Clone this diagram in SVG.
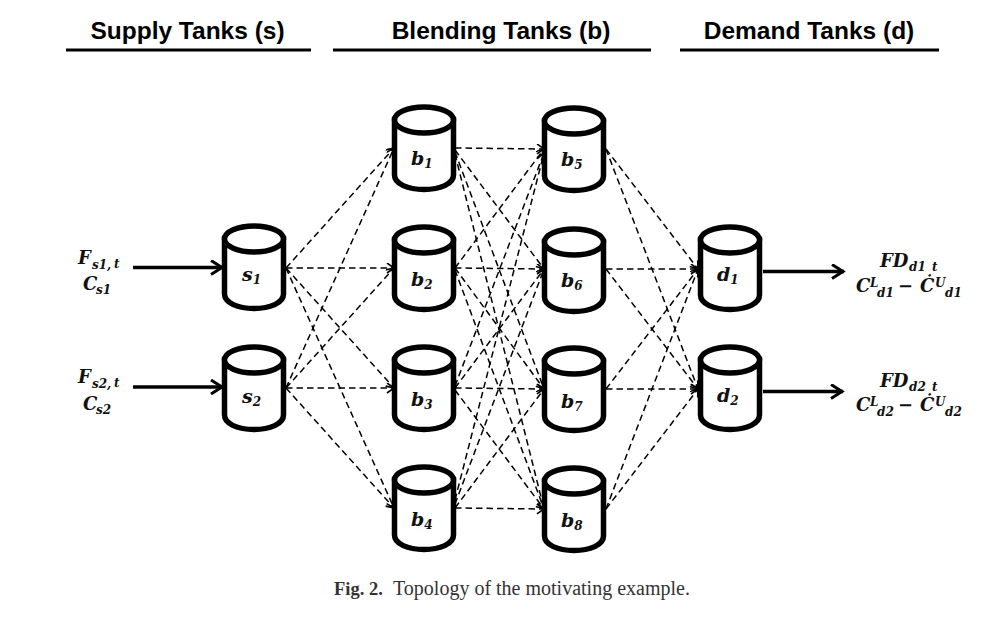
<svg xmlns="http://www.w3.org/2000/svg" width="1006" height="623" viewBox="0 0 1006 623">
<style>
.t{font:bold 24.5px "Liberation Sans",Arial,sans-serif;text-anchor:middle;fill:#000}
.h{stroke:#000;stroke-width:3;fill:none}
.c{fill:#fff;stroke:#000;stroke-width:5.500}
.m{font-family:"DejaVu Serif",serif;font-weight:bold;font-style:italic;fill:#111}
.l{font-size:18px}
.n{font-size:19px}
.s{font-size:12px}
.d{stroke:#000;stroke-width:1.500;stroke-dasharray:6.500 4;fill:none;marker-end:url(#a)}
.f{stroke:#000;stroke-width:3.300;fill:none;marker-end:url(#b)}
.cap{font-family:"Liberation Serif",serif;font-size:18.500px;fill:#333}
</style>
<defs>
<marker id="a" markerUnits="userSpaceOnUse" markerWidth="10" markerHeight="12" refX="8" refY="5" orient="auto"><path d="M1 0L8 5L1 10" fill="none" stroke="#000" stroke-width="1.600"/></marker>
<marker id="b" markerUnits="userSpaceOnUse" markerWidth="16" markerHeight="18" refX="14" refY="8" orient="auto"><path d="M2 1L13 8L2 15" fill="none" stroke="#000" stroke-width="3"/></marker>
<g id="cyl"><path class="c" d="M0.500 15V70C0.500 79 14 84.500 30 84.500S59.500 79 59.500 70V15Z"/><ellipse class="c" cx="30" cy="15" rx="29.500" ry="13"/></g>
</defs>
<g id="headers">
<text class="t" x="187.500" y="39">Supply Tanks (s)</text><path class="h" d="M66 50H311"/>
<text class="t" x="501" y="39">Blending Tanks (b)</text><path class="h" d="M333 50H651"/>
<text class="t" x="809" y="39">Demand Tanks (d)</text><path class="h" d="M680 50H939"/>
</g>
<g id="connectors">
<path class="d" d="M286 268L394 148"/><path class="d" d="M286 268L394 268"/><path class="d" d="M286 268L394 388"/><path class="d" d="M286 268L394 508"/><path class="d" d="M286 388L394 148"/><path class="d" d="M286 388L394 268"/><path class="d" d="M286 388L394 388"/><path class="d" d="M286 388L394 508"/>
<path class="d" d="M455 148L544 149"/><path class="d" d="M455 150L544 269"/><path class="d" d="M455 152L544 389"/><path class="d" d="M455 154L544 509"/>
<path class="d" d="M455 268L544 149"/><path class="d" d="M455 268L544 269"/><path class="d" d="M455 268L544 389"/><path class="d" d="M455 270L544 509"/>
<path class="d" d="M455 386L544 153"/><path class="d" d="M455 388L544 269"/><path class="d" d="M455 388L544 389"/><path class="d" d="M455 390L544 509"/>
<path class="d" d="M455 500L544 153"/><path class="d" d="M455 504L544 269"/><path class="d" d="M455 508L544 389"/><path class="d" d="M455 508L544 509"/>
<path class="d" d="M606 149L698 269"/><path class="d" d="M606 149L698 389"/><path class="d" d="M606 269L698 269"/><path class="d" d="M606 269L698 389"/>
<path class="d" d="M606 389L698 269"/><path class="d" d="M606 389L698 389"/><path class="d" d="M606 509L698 269"/><path class="d" d="M606 509L698 389"/>
<path class="f" d="M133 267.500H223"/><path class="f" d="M133 387H223"/><path class="f" d="M763 271.500H844"/><path class="f" d="M763 391.500H843"/>
</g>
<g id="s1"><use href="#cyl" x="224" y="224"/><text class="m n" x="242" y="281">s<tspan class="s" dy="3">1</tspan></text></g>
<g id="s2"><use href="#cyl" x="224" y="345"/><text class="m n" x="242" y="403">s<tspan class="s" dy="3">2</tspan></text></g>
<g id="b1"><use href="#cyl" x="394" y="105"/><text class="m n" x="411" y="165">b<tspan class="s" dy="3">1</tspan></text></g>
<g id="b2"><use href="#cyl" x="394" y="225"/><text class="m n" x="411" y="286">b<tspan class="s" dy="3">2</tspan></text></g>
<g id="b3"><use href="#cyl" x="394" y="345"/><text class="m n" x="411" y="406">b<tspan class="s" dy="3">3</tspan></text></g>
<g id="b4"><use href="#cyl" x="394" y="465"/><text class="m n" x="411" y="526">b<tspan class="s" dy="3">4</tspan></text></g>
<g id="b5"><use href="#cyl" x="544" y="106"/><text class="m n" x="561" y="166">b<tspan class="s" dy="3">5</tspan></text></g>
<g id="b6"><use href="#cyl" x="544" y="227"/><text class="m n" x="561" y="287">b<tspan class="s" dy="3">6</tspan></text></g>
<g id="b7"><use href="#cyl" x="544" y="346"/><text class="m n" x="561" y="408">b<tspan class="s" dy="3">7</tspan></text></g>
<g id="b8"><use href="#cyl" x="544" y="466"/><text class="m n" x="561" y="527">b<tspan class="s" dy="3">8</tspan></text></g>
<g id="d1"><use href="#cyl" x="700" y="225"/><text class="m n" x="717" y="281">d<tspan class="s" dy="3">1</tspan></text></g>
<g id="d2"><use href="#cyl" x="700" y="345"/><text class="m n" x="717" y="402">d<tspan class="s" dy="3">2</tspan></text></g>
<g id="labels">
<text class="m l" x="78" y="264">F<tspan class="s" x="92" y="269">s1,</tspan><tspan class="s" x="114" y="268">t</tspan></text>
<text class="m l" x="83" y="290">C<tspan class="s" x="96" y="294">s1</tspan></text>
<text class="m l" x="78" y="383">F<tspan class="s" x="92" y="388">s2,</tspan><tspan class="s" x="114" y="387">t</tspan></text>
<text class="m l" x="83" y="410">C<tspan class="s" x="96" y="414">s2</tspan></text>
<text class="m l" x="880" y="267">FD<tspan class="s" x="909" y="271">d1</tspan><tspan class="s" x="932" y="271">t</tspan></text>
<text class="m l" x="856" y="292">C<tspan class="s" x="870" y="287">L</tspan><tspan class="s" x="877" y="297">d1</tspan><tspan x="898" y="292">−</tspan><tspan x="920" y="292">Ċ</tspan><tspan class="s" x="935" y="287">U</tspan><tspan class="s" x="945" y="297">d1</tspan></text>
<text class="m l" x="880" y="387">FD<tspan class="s" x="909" y="391">d2</tspan><tspan class="s" x="932" y="391">t</tspan></text>
<text class="m l" x="856" y="411">C<tspan class="s" x="870" y="406">L</tspan><tspan class="s" x="877" y="416">d2</tspan><tspan x="898" y="411">−</tspan><tspan x="920" y="411">Ċ</tspan><tspan class="s" x="935" y="406">U</tspan><tspan class="s" x="945" y="416">d2</tspan></text>
</g>
<text class="cap" x="334" y="595"><tspan font-weight="bold">Fig. 2.</tspan><tspan x="393" font-size="20">Topology of the motivating example.</tspan></text>
</svg>
